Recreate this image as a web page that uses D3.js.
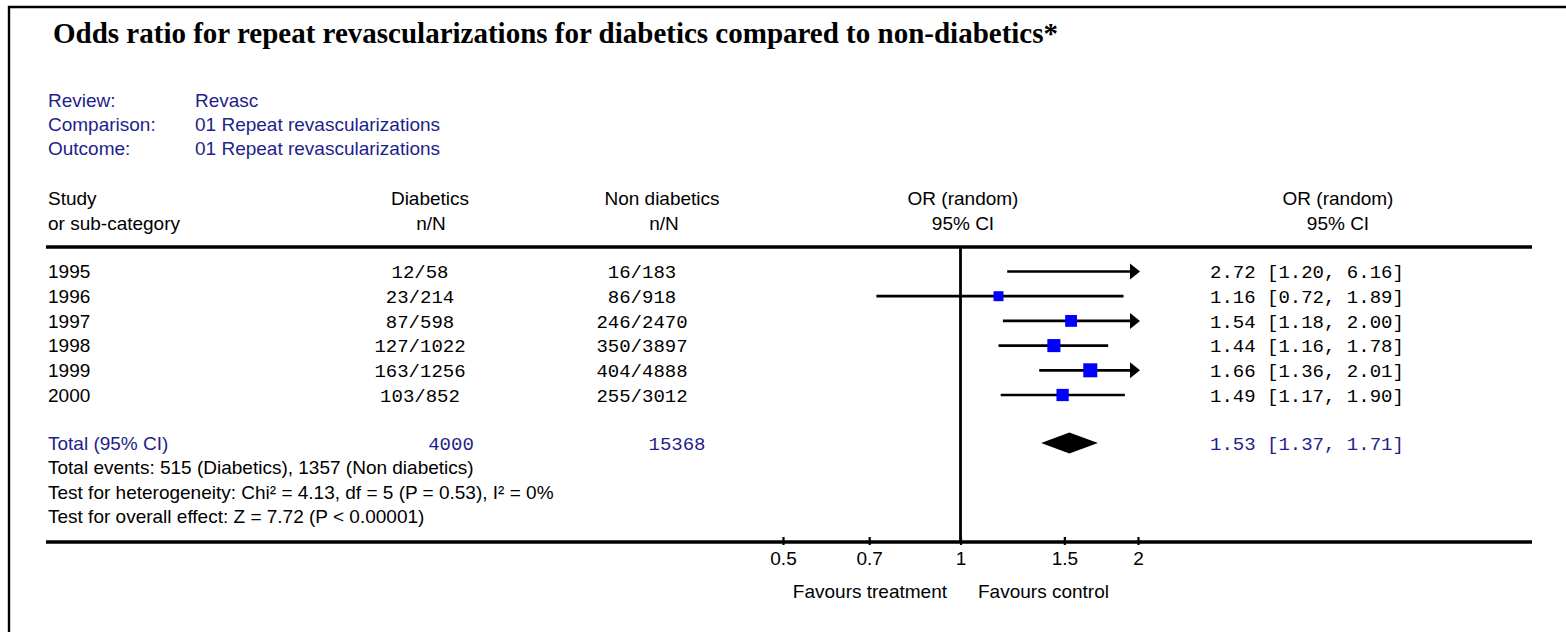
<!DOCTYPE html>
<html>
<head>
<meta charset="utf-8">
<script src="https://cdn.jsdelivr.net/npm/d3@7"></script>
<style>
  html, body { margin: 0; padding: 0; background: #fff; }
  svg { display: block; }
</style>
</head>
<body>
<svg id="chart" width="1566" height="632"></svg>
<script>
// ---- data ----
const studies    = ["1995", "1996", "1997", "1998", "1999", "2000"];
const diabEvents = [12, 23, 87, 127, 163, 103];
const diabTotal  = [58, 214, 598, 1022, 1256, 852];
const nonEvents  = [16, 86, 246, 350, 404, 255];
const nonTotal   = [183, 918, 2470, 3897, 4888, 3012];
const orEst      = [2.72, 1.16, 1.54, 1.44, 1.66, 1.49];
const ciLow      = [1.20, 0.72, 1.18, 1.16, 1.36, 1.17];
const ciHigh     = [6.16, 1.89, 2.00, 1.78, 2.01, 1.90];
const totalN     = [4000, 15368];
const totalOR    = [1.53, 1.37, 1.71];
const axisTicks  = [0.5, 0.7, 1, 1.5, 2];
const metaLabels = ["Review:", "Comparison:", "Outcome:"];
const metaValues = ["Revasc", "01 Repeat revascularizations", "01 Repeat revascularizations"];
const footLines  = [
  "Total events: 515 (Diabetics), 1357 (Non diabetics)",
  "Test for heterogeneity: Chi\u00b2 = 4.13, df = 5 (P = 0.53), I\u00b2 = 0%",
  "Test for overall effect: Z = 7.72 (P < 0.00001)"
];
const titleText = "Odds ratio for repeat revascularizations for diabetics compared to non-diabetics*";

// ---- drawing ----
const svg = d3.select("#chart");
const SANS = "'Liberation Sans', Arial, sans-serif";
const MONO = "'Liberation Mono', 'Courier New', monospace";
const SERIF = "'Liberation Serif', 'Times New Roman', serif";
const NAVY = "#1e1e8c";
const FS = 19;       // sans font size
const MFS = 19;      // mono font size
const LX = 48;       // left text column

const x = d3.scaleLog().domain([0.5, 2]).range([783, 1138]);
const y = d3.scalePoint().domain(studies).range([271.5, 395]);

// frame
svg.append("path").attr("d", "M9,640 V7 H1570").attr("fill", "none").attr("stroke", "#000").attr("stroke-width", 2.4);

// title
svg.append("text").attr("x", 53).attr("y", 43).text(titleText)
  .attr("font-family", SERIF).attr("font-weight", "bold").attr("font-size", 29).attr("fill", "#000");

// meta
metaLabels.forEach((l, i) => {
  const yy = 100 + i * 24;
  svg.append("text").attr("x", LX).attr("y", yy).attr("dy", "0.35em").text(l)
    .attr("font-family", SANS).attr("font-size", FS).attr("fill", NAVY);
  svg.append("text").attr("x", 195).attr("y", yy).attr("dy", "0.35em").text(metaValues[i])
    .attr("font-family", SANS).attr("font-size", FS).attr("fill", NAVY);
});

// header
const hdr = (t, xx, yy, anchor) => svg.append("text").attr("x", xx).attr("y", yy).attr("dy", "0.35em")
  .attr("text-anchor", anchor).text(t).attr("font-family", SANS).attr("font-size", FS).attr("fill", "#000");
hdr("Study", LX, 198, "start");
hdr("or sub-category", LX, 223, "start");
hdr("Diabetics", 430, 198, "middle");
hdr("n/N", 431, 223, "middle");
hdr("Non diabetics", 662, 198, "middle");
hdr("n/N", 664, 223, "middle");
hdr("OR (random)", 963, 198, "middle");
hdr("95% CI", 963, 223, "middle");
hdr("OR (random)", 1338, 198, "middle");
hdr("95% CI", 1338, 223, "middle");

// horizontal rules
svg.append("line").attr("x1", 46).attr("x2", 1532).attr("y1", 247).attr("y2", 247).attr("stroke", "#000").attr("stroke-width", 3.5);
svg.append("line").attr("x1", 46).attr("x2", 1532).attr("y1", 542).attr("y2", 542).attr("stroke", "#000").attr("stroke-width", 3.5);

// null line
svg.append("line").attr("x1", x(1)).attr("x2", x(1)).attr("y1", 247).attr("y2", 542).attr("stroke", "#000").attr("stroke-width", 2.8);

// weights from counts (inverse variance of log OR)
const weights = studies.map((s, i) => 1 / (1 / diabEvents[i] + 1 / (diabTotal[i] - diabEvents[i]) + 1 / nonEvents[i] + 1 / (nonTotal[i] - nonEvents[i])));
const boxSize = d3.scaleLinear().domain([0, d3.max(weights)]).range([9.2, 14]);

const monoText = (sel, t, xx, yy, anchor, fill) => sel.append("text").attr("x", xx).attr("y", yy).attr("dy", "0.35em")
  .attr("text-anchor", anchor).text(t).attr("font-family", MONO).attr("font-size", MFS).attr("fill", fill);

// study rows
const rows = svg.append("g");
studies.forEach((s, i) => {
  const yy = y(s);
  rows.append("text").attr("x", LX).attr("y", yy).attr("dy", "0.35em").text(s)
    .attr("font-family", SANS).attr("font-size", FS);
  monoText(rows, diabEvents[i] + "/" + diabTotal[i], 420, yy, "middle", "#000");
  monoText(rows, nonEvents[i] + "/" + nonTotal[i], 642, yy, "middle", "#000");
  monoText(rows, orEst[i].toFixed(2) + " [" + ciLow[i].toFixed(2) + ", " + ciHigh[i].toFixed(2) + "]", 1210, yy, "start", "#000");

  const lo = Math.max(ciLow[i], 0.5), hi = Math.min(ciHigh[i], 2);
  const arrowR = ciHigh[i] >= 2;
  rows.append("line").attr("x1", x(lo)).attr("x2", arrowR ? x(2) - 2 : x(hi)).attr("y1", yy).attr("y2", yy)
    .attr("stroke", "#000").attr("stroke-width", 2.7);
  if (arrowR) {
    const tx = x(2) + 2;
    rows.append("path").attr("d", `M${tx},${yy} L${tx - 10},${yy - 8} L${tx - 10},${yy + 8} Z`).attr("fill", "#000");
  }
  if (orEst[i] >= 0.5 && orEst[i] <= 2) {
    const sz = boxSize(weights[i]);
    rows.append("rect").attr("x", x(orEst[i]) - sz / 2).attr("y", yy - sz / 2).attr("width", sz).attr("height", sz)
      .attr("fill", "#0000ff");
  }
});

// total row
const ty = 443;
svg.append("text").attr("x", LX).attr("y", ty).attr("dy", "0.35em").text("Total (95% CI)")
  .attr("font-family", SANS).attr("font-size", FS).attr("fill", NAVY);
monoText(svg, String(totalN[0]), 451, ty, "middle", NAVY);
monoText(svg, String(totalN[1]), 677, ty, "middle", NAVY);
monoText(svg, totalOR[0].toFixed(2) + " [" + totalOR[1].toFixed(2) + ", " + totalOR[2].toFixed(2) + "]", 1210, ty, "start", NAVY);
svg.append("path")
  .attr("d", `M${x(totalOR[1])},${ty} L${x(totalOR[0])},${ty - 10.5} L${x(totalOR[2])},${ty} L${x(totalOR[0])},${ty + 10.5} Z`)
  .attr("fill", "#000");

// footnotes
footLines.forEach((t, i) => {
  svg.append("text").attr("x", LX).attr("y", 467.5 + i * 24.5).attr("dy", "0.35em").text(t)
    .attr("font-family", SANS).attr("font-size", FS).attr("fill", "#000");
});

// axis
const axis = d3.axisBottom(x).tickValues(axisTicks).tickFormat(d => String(d)).tickSize(8);
const ag = svg.append("g").attr("transform", "translate(0,537)").call(axis);
ag.select(".domain").remove();
ag.selectAll(".tick line").attr("stroke", "#000").attr("stroke-width", 2.2);
ag.selectAll(".tick text").attr("y", 21).attr("dy", "0.35em")
  .attr("font-family", SANS).attr("font-size", FS).attr("fill", "#000");

svg.append("text").attr("x", 947).attr("y", 591).attr("dy", "0.35em").attr("text-anchor", "end").text("Favours treatment")
  .attr("font-family", SANS).attr("font-size", FS);
svg.append("text").attr("x", 978).attr("y", 591).attr("dy", "0.35em").text("Favours control")
  .attr("font-family", SANS).attr("font-size", FS);
</script>
</body>
</html>
